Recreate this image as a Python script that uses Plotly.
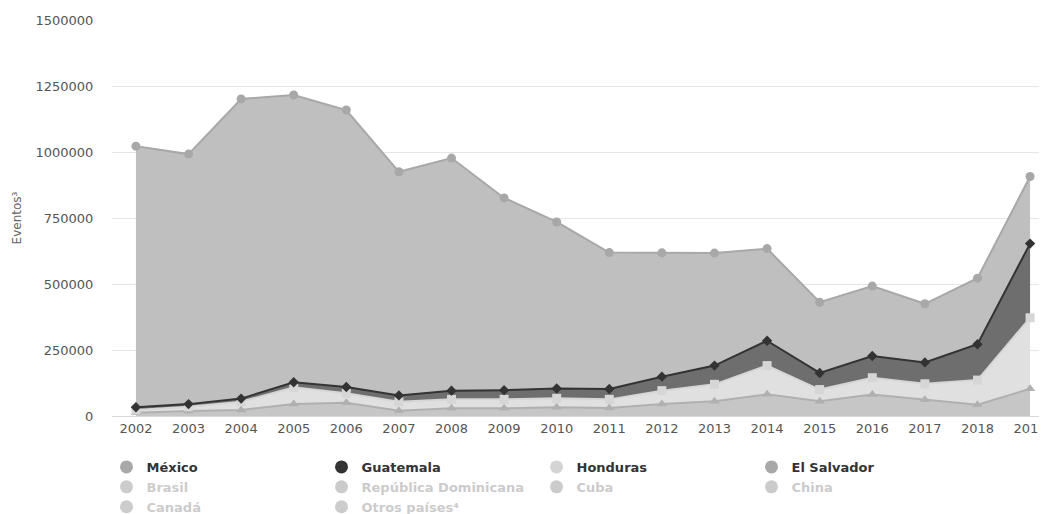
import plotly.graph_objects as go

years = [2002, 2003, 2004, 2005, 2006, 2007, 2008, 2009, 2010,
         2011, 2012, 2013, 2014, 2015, 2016, 2017, 2018, 2019]
year_labels = [str(y) for y in years]

el_salvador = [12000, 19000, 23000, 45000, 50000, 20000, 29000, 29000, 33000,
               30000, 45000, 56000, 82000, 56000, 81000, 62000, 43000, 103000]
honduras = [11000, 16000, 31000, 64000, 36000, 34000, 34000, 34000, 34000,
            33000, 51000, 64000, 109000, 44000, 64000, 60000, 93000, 269000]
guatemala = [10000, 10000, 12000, 19000, 24000, 24000, 33000, 35000, 37000,
             39000, 53000, 71000, 94000, 63000, 82000, 81000, 136000, 281000]
mexico = [989000, 947000, 1135000, 1088000, 1049000, 847000, 881000, 728000, 631000,
          517000, 469000, 426000, 349000, 268000, 265000, 222000, 250000, 254000]

y_ticks = [0, 250000, 500000, 750000, 1000000, 1250000, 1500000]

legend_visible = ["México", "Guatemala", "Honduras", "El Salvador"]
legend_order = ["México", "Guatemala", "Honduras", "El Salvador",
                "Brasil", "República Dominicana", "Cuba", "China",
                "Canadá", "Otros países⁴"]

fig = go.Figure()

series = [
    ("El Salvador", el_salvador, "#b0b0b0", "#c6c6c6", "triangle-up", 9),
    ("Honduras", honduras, "#d6d6d6", "#e0e0e0", "square", 9),
    ("Guatemala", guatemala, "#333333", "#6e6e6e", "diamond", 8),
    ("México", mexico, "#a8a8a8", "#bfbfbf", "circle", 9),
]
for name, vals, lc, fc, sym, ms in series:
    fig.add_trace(go.Scatter(
        x=years, y=vals, name=name, stackgroup="one", mode="lines+markers",
        line=dict(color=lc, width=2), fillcolor=fc,
        marker=dict(symbol=sym, size=ms, color=lc),
        showlegend=False,
    ))

legend_colors = {"México": "#a8a8a8", "Guatemala": "#333333",
                 "Honduras": "#d4d4d4", "El Salvador": "#a8a8a8"}
for nm in legend_order:
    if nm in legend_visible:
        fig.add_trace(go.Scatter(
            x=[None], y=[None], mode="markers", name="<b>%s</b>" % nm,
            marker=dict(symbol="circle", size=13, color=legend_colors[nm]),
            hoverinfo="skip"))
    else:
        fig.add_trace(go.Scatter(
            x=[None], y=[None], mode="markers",
            name="<b><span style='color:#999999'>%s</span></b>" % nm,
            marker=dict(symbol="circle", size=13, color="#999999"),
            visible="legendonly", hoverinfo="skip"))

# page body adds an 8px offset; figure is sized/positioned to compensate
W, H = 1039, 506
fig.update_layout(
    width=W, height=H,
    margin=dict(l=104, r=0, t=12, b=98),
    paper_bgcolor="white", plot_bgcolor="white",
    font=dict(family="DejaVu Sans", size=13, color="#666666"),
    showlegend=True,
    legend=dict(
        orientation="h", xref="container", yref="container",
        x=98.5 / W, y=1 - 444 / H, xanchor="left", yanchor="top",
        entrywidth=170, entrywidthmode="pixels",
        font=dict(family="DejaVu Sans", size=13, color="#333333"),
        traceorder="normal", itemclick=False, itemdoubleclick=False,
    ),
    xaxis=dict(
        range=[2001.545, 2019.265], tickvals=years, ticktext=year_labels,
        showgrid=False, zeroline=False, showline=True, linecolor="#d8d8d8",
        linewidth=1, ticks="", tickfont=dict(size=13, color="#555555"),
        ticklabeloverflow="allow",
    ),
    yaxis=dict(
        range=[0, 1500000], tickvals=y_ticks, ticktext=[str(v) for v in y_ticks],
        showgrid=True, gridcolor="#e6e6e6", gridwidth=1, zeroline=False,
        showline=False, ticks="outside", ticklen=15, tickcolor="rgba(0,0,0,0)",
        tickfont=dict(size=13, color="#555555"),
        title=dict(text="Eventos³", font=dict(size=12, color="#666666"), standoff=11),
    ),
)

fig.write_html("out.html")
